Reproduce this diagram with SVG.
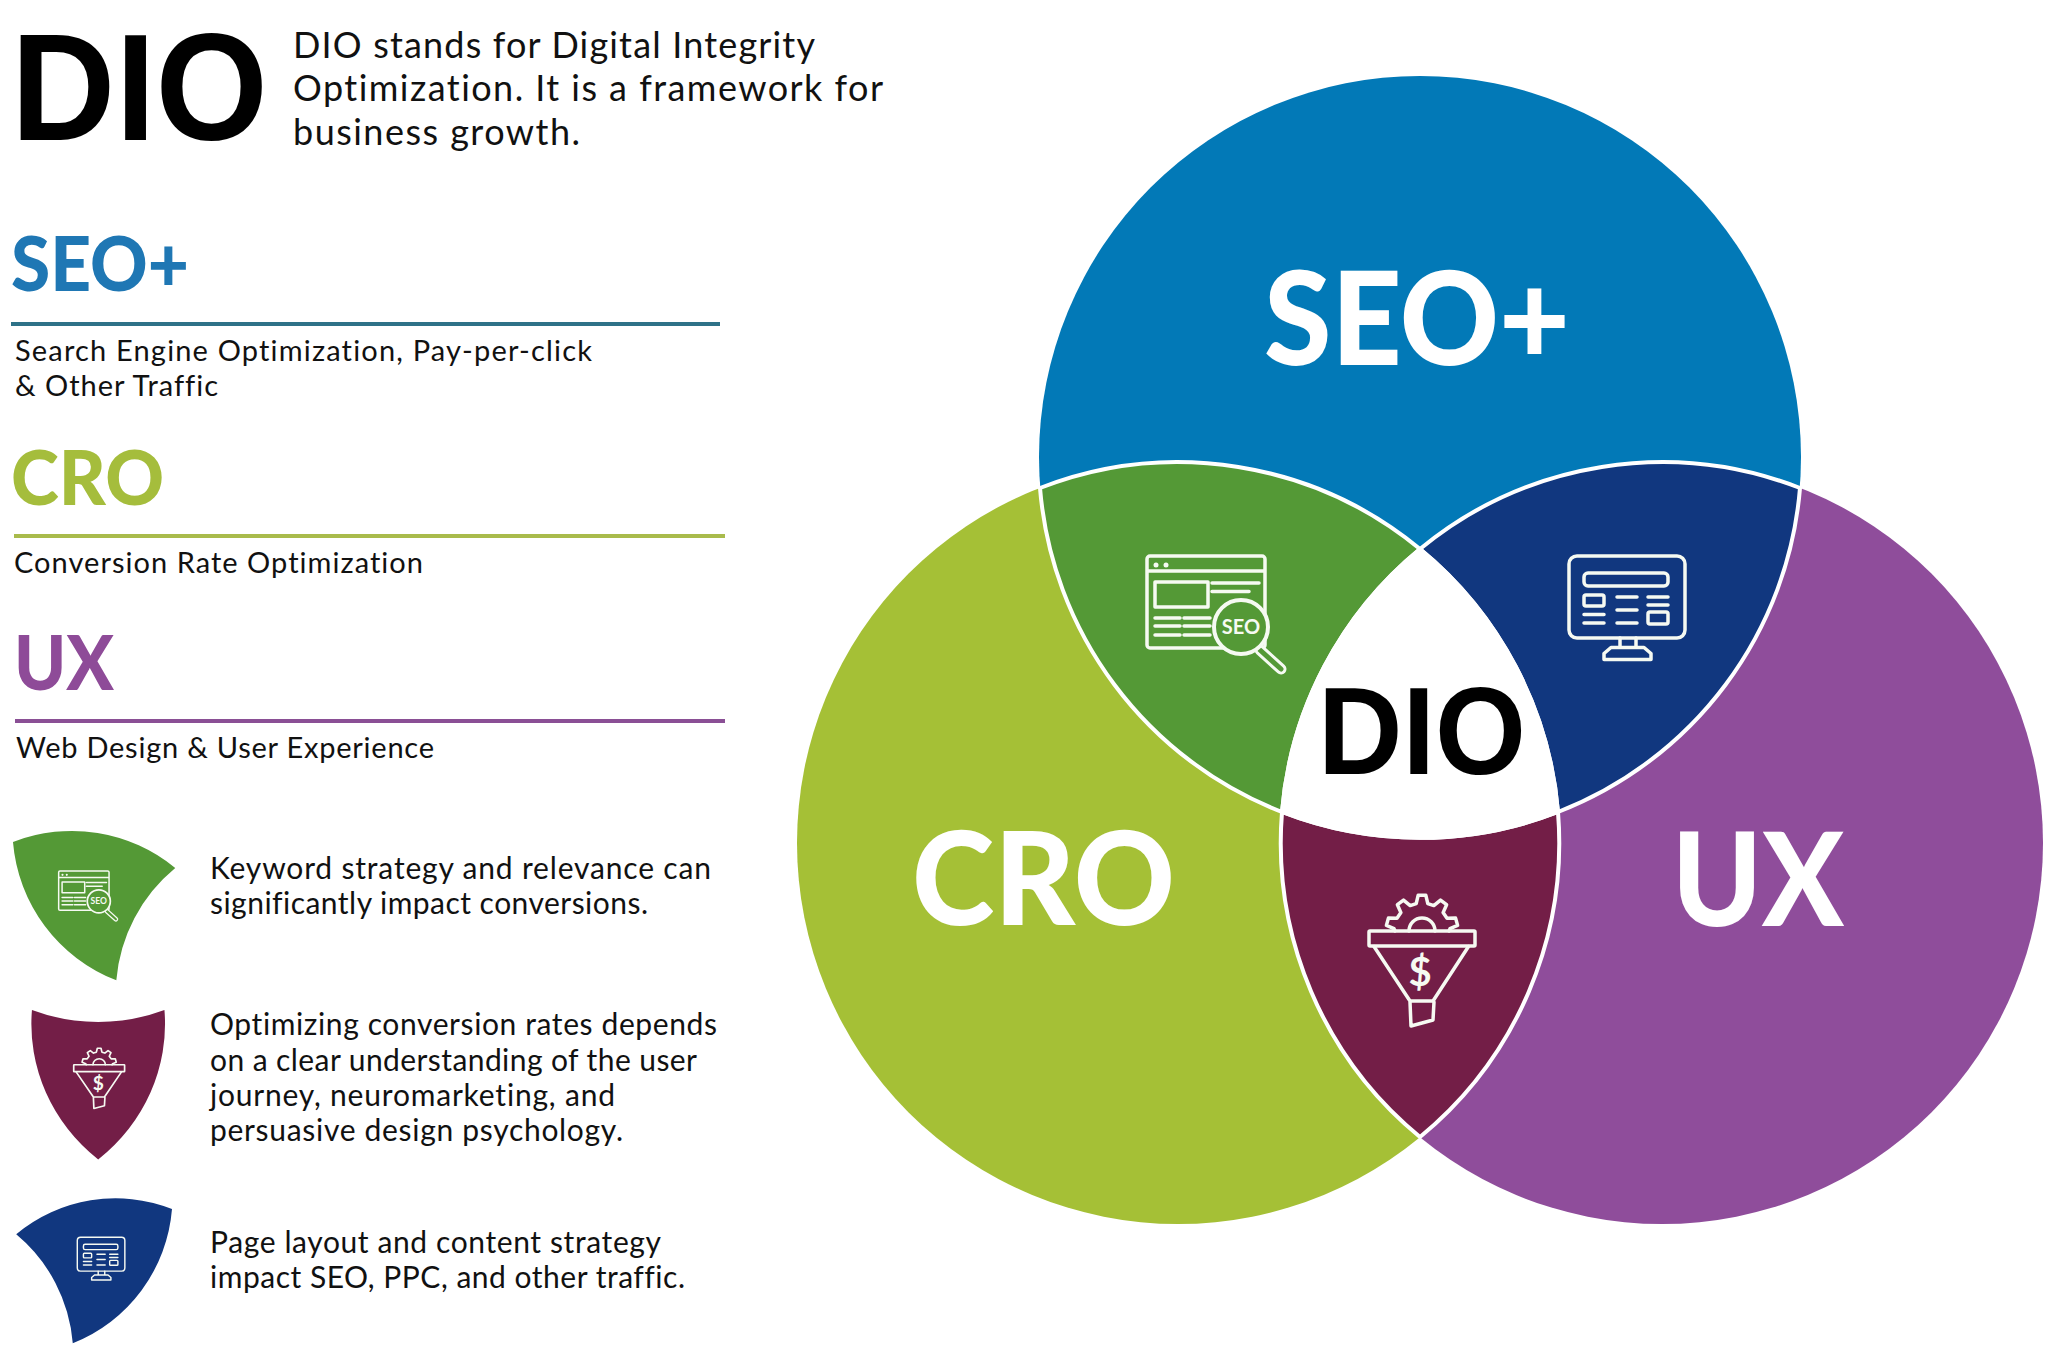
<svg xmlns="http://www.w3.org/2000/svg" width="2062" height="1370" viewBox="0 0 2062 1370">
<style>
text{font-family:"Lato","Liberation Sans",sans-serif;font-variant-ligatures:none}
.big{font-weight:900}
.dio{font-family:"Liberation Sans",sans-serif;font-weight:700;fill:#000}
.body{font-size:30px;fill:#111}
.sub{font-size:29px;fill:#111}
.top{font-size:36px;fill:#111}
.w{fill:#fff}
.ln{fill:none;stroke:#f6faf2;stroke-width:3.500;stroke-linecap:round;stroke-linejoin:round}
.edge{stroke:#fff;stroke-width:4;stroke-linejoin:round}
.ic{fill:#f6faf2;font-weight:700}
</style>
<defs>
<path id="lens-green" d="M1040 488A381 381 0 0 1 1420 549A381 381 0 0 0 1282 812A381 381 0 0 1 1040 488Z" fill="#549936"/>
<path id="lens-blue" d="M1800 488A381 381 0 0 1 1558 812A381 381 0 0 0 1420 549A381 381 0 0 1 1800 488Z" fill="#11377f"/>
<path id="lens-maroon" d="M1282 812A381 381 0 0 0 1558 812A381 381 0 0 1 1420 1137A381 381 0 0 1 1282 812Z" fill="#731e47"/>
<g id="icon-seo">
<path class="ln" d="M1147 559a3 3 0 0 1 3-3h112a3 3 0 0 1 3 3v86a3 3 0 0 1-3 3h-112a3 3 0 0 1-3-3zM1147 571h118M1155 582h53v25h-53zM1212 583h47M1212 591.500h37M1155 618h25M1155 626h25M1155 635h25M1184 618h26M1184 626h26M1184 635h26"/>
<circle cx="1156" cy="565" r="2.500" fill="#f6faf2"/><circle cx="1166" cy="565" r="2.500" fill="#f6faf2"/>
<path d="M1260 650L1281 669" fill="none" stroke="#f6faf2" stroke-width="11" stroke-linecap="round"/>
<path d="M1260 650L1281 669" fill="none" stroke="#549936" stroke-width="5" stroke-linecap="round"/>
<circle cx="1241" cy="627" r="27" fill="#549936" stroke="#f6faf2" stroke-width="4"/>
<text class="ic" x="1241" y="634" font-size="20" text-anchor="middle">SEO</text>
</g>
<g id="icon-monitor">
<rect class="ln" x="1569" y="556" width="116" height="82" rx="8"/>
<rect class="ln" x="1584" y="573" width="84" height="13" rx="4"/>
<rect class="ln" x="1584" y="595" width="20" height="11" rx="2"/>
<rect class="ln" x="1648" y="612" width="20" height="12" rx="2"/>
<path class="ln" d="M1584 614.500h20M1584 623h20M1617 597h20M1617 610h20M1617 623h20M1648 597h20M1648 605h20M1620 638v9.500M1636 638v9.500M1611 647.500h33l7 6v6h-47v-6z"/>
</g>
<g id="icon-funnel">
<rect class="ln" x="1369" y="931" width="106" height="15" rx="1"/>
<path class="ln" d="M1374 946.500L1410 1001H1433L1468.500 946.500M1410 1002L1411 1026L1433 1020L1434 1002"/>
<path class="ln" d="M1395 931L1394 928.600L1386.400 925.400L1388.400 918.100L1397 918.300L1400.900 912.600L1397.400 904.700L1403.500 900.100L1410.200 905.600L1416.200 903.600L1418.200 895.200L1425.800 895.200L1427.800 903.600L1433.800 905.600L1440.500 900.100L1446.600 904.700L1443.100 912.600L1447 918.300L1455.600 918.100L1457.600 925.400L1450 928.600L1449 931M1409 931A13 13 0 0 1 1435 931"/>
<text class="ic" x="1420" y="986" font-size="40" text-anchor="middle">$</text>
</g>
</defs>
<rect width="2062" height="1370" fill="#fff"/>

<g id="intro">
<text class="dio" x="11" y="140" font-size="153" textLength="257" lengthAdjust="spacingAndGlyphs">DIO</text>
<text class="top" x="293" y="58" textLength="522">DIO stands for Digital Integrity</text>
<text class="top" x="293" y="101" textLength="590">Optimization. It is a framework for</text>
<text class="top" x="293" y="145" textLength="287">business growth.</text>
</g>

<g id="legend-seo">
<text class="big" x="11" y="291" font-size="76" fill="#1f77b4" textLength="178" lengthAdjust="spacingAndGlyphs">SEO+</text>
<rect x="11" y="322" width="709" height="4" fill="#2e7288"/>
<text class="sub" x="15" y="361" textLength="577">Search Engine Optimization, Pay-per-click</text>
<text class="sub" x="15" y="396" textLength="203">&amp; Other Traffic</text>
</g>
<g id="legend-cro">
<text class="big" x="11" y="505" font-size="76" fill="#a5bd3c" textLength="153" lengthAdjust="spacingAndGlyphs">CRO</text>
<rect x="14" y="534" width="711" height="4" fill="#a9bb4c"/>
<text class="sub" x="14" y="573" textLength="409">Conversion Rate Optimization</text>
</g>
<g id="legend-ux">
<text class="big" x="14" y="690" font-size="76" fill="#8e4b98" textLength="100" lengthAdjust="spacingAndGlyphs">UX</text>
<rect x="15" y="719" width="710" height="4" fill="#8a4f95"/>
<text class="sub" x="16" y="758" textLength="418">Web Design &amp; User Experience</text>
</g>

<g id="note-green">
<g transform="matrix(.427 0 0 .427 -431.100 633.600)"><use href="#lens-green"/><use href="#icon-seo"/></g>
<text class="body" x="210" y="879" textLength="501">Keyword strategy and relevance can</text>
<text class="body" x="210" y="914" textLength="438">significantly impact conversions.</text>
</g>
<g id="note-maroon">
<g transform="matrix(.48 0 0 .46 -583.400 636.500)"><use href="#lens-maroon"/><use href="#icon-funnel"/></g>
<text class="body" x="210" y="1035" textLength="507">Optimizing conversion rates depends</text>
<text class="body" x="210" y="1071" textLength="487">on a clear understanding of the user</text>
<text class="body" x="210" y="1106" textLength="405">journey, neuromarketing, and</text>
<text class="body" x="210" y="1141" textLength="413">persuasive design psychology.</text>
</g>
<g id="note-blue">
<g transform="matrix(.41 0 0 .414 -566 1007)"><use href="#lens-blue"/><use href="#icon-monitor"/></g>
<text class="body" x="210" y="1253" textLength="451">Page layout and content strategy</text>
<text class="body" x="210" y="1288" textLength="475">impact SEO, PPC, and other traffic.</text>
</g>

<g id="venn-seo"><circle cx="1420" cy="457" r="381" fill="#0279b7"/></g>
<g id="venn-cro"><circle cx="1178" cy="843" r="381" fill="#a5c036"/></g>
<g id="venn-ux"><circle cx="1662" cy="843" r="381" fill="#8f4d9b"/></g>
<g id="overlap-seo-cro"><use href="#lens-green" class="edge"/><use href="#icon-seo"/></g>
<g id="overlap-seo-ux"><use href="#lens-blue" class="edge"/><use href="#icon-monitor"/></g>
<g id="overlap-cro-ux"><use href="#lens-maroon" class="edge"/><use href="#icon-funnel"/></g>
<g id="overlap-all"><path class="edge" fill="#fff" d="M1420 549A381 381 0 0 1 1558 812A381 381 0 0 1 1282 812A381 381 0 0 1 1420 549Z"/>
<text class="dio" x="1318" y="774" font-size="125" textLength="208" lengthAdjust="spacingAndGlyphs">DIO</text></g>
<g id="labels">
<text class="big w" x="1264" y="365" font-size="130" textLength="306" lengthAdjust="spacingAndGlyphs">SEO+</text>
<text class="big w" x="912" y="925" font-size="130" textLength="263" lengthAdjust="spacingAndGlyphs">CRO</text>
<text class="big w" x="1672" y="926" font-size="130" textLength="172" lengthAdjust="spacingAndGlyphs">UX</text>
</g>
</svg>
